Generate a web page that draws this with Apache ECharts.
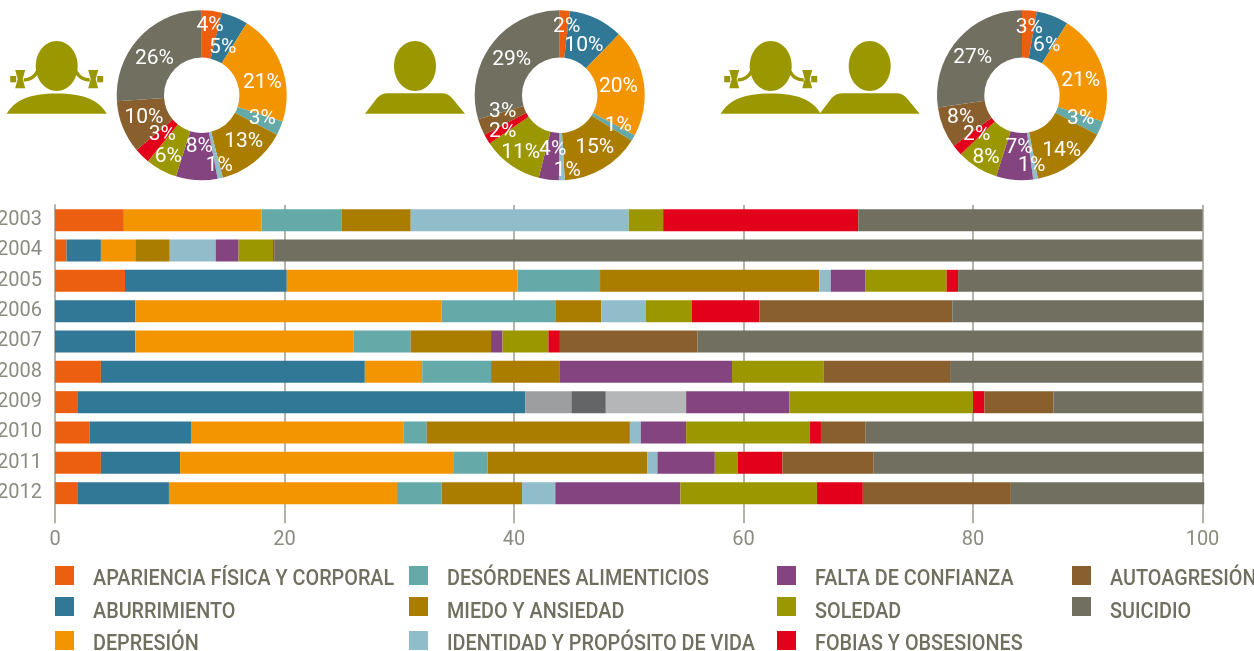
<!DOCTYPE html>
<html><head><meta charset="utf-8">
<style>html,body{margin:0;padding:0;background:#fff}#c{width:1254px;height:651px}</style>
<script src="https://cdn.jsdelivr.net/npm/echarts@6/dist/echarts.min.js"></script>
</head><body><div id="c"></div>
<script>
const years = ['2003','2004','2005','2006','2007','2008','2009','2010','2011','2012'];
const xTicks = [0,20,40,60,80,100];

const names = ['APARIENCIA FÍSICA Y CORPORAL','ABURRIMIENTO','DEPRESIÓN','DESÓRDENES ALIMENTICIOS','MIEDO Y ANSIEDAD','IDENTIDAD Y PROPÓSITO DE VIDA','FALTA DE CONFIANZA','SOLEDAD','FOBIAS Y OBSESIONES','AUTOAGRESIÓN','SUICIDIO'];
const colors = ['#ec5f10','#317897','#f39500','#65a9a8','#aa7c00','#91bdca','#844480','#9b9700','#e2001a','#8a5f2e','#716f60'];

const apariencia = [6,1,6.1,0,0,4,2,3,4,2];
const aburrimiento = [0,3,14.1,7,7,23,39,8.85,6.9,7.93];
const depresion = [12,3,20.1,26.7,19,5,0,18.55,23.8,19.87];
const desordenes = [7,0,7.2,9.9,5,6,0,2,3,3.9];
const miedo = [6,3,19.1,4,7,6,0,17.7,13.9,7];
const identidad = [19,4,1,3.9,0,0,0,0.95,0.9,2.9];
const gris1 = [0,0,0,0,0,0,4,0,0,0];
const gris2 = [0,0,0,0,0,0,3,0,0,0];
const gris3 = [0,0,0,0,0,0,7,0,0,0];
const falta = [0,2,3,0,1,15,9,3.95,5,10.9];
const soledad = [3,3,7.1,4,4,8,16,10.8,2,11.9];
const fobias = [17,0,1,5.9,1,0,1,0.95,3.9,4];
const autoagresion = [0,0.1,0,16.8,12,11,6,3.9,7.95,12.9];
const suicidio = [30,80.9,21.3,21.9,44,22,13,29.45,28.75,16.85];

const pieMujeres = [3.8,5.1,21.1,2.7,13.3,1,7.9,6,3,10,26.1];
const pieHombres = [1.9,10.3,20.4,1.2,15,1.1,3.8,11.4,1.9,3.1,29.4];
const pieAmbos = [2.8,6.1,21.1,2.7,14.3,0.9,7,7.9,2.1,7.8,27.3];

// label offsets from each donut's centre
const labelOffsetMujeres = [[8.3,-69.7],[21,-47.7],[60.7,-13],[60.7,23],[42,46.3],[17.7,70.3],[-2.3,51.3],[-33.3,61.3],[-39.3,39],[-57.7,22],[-47.3,-36.7]];
const labelOffsetHombres = [[7,-68.3],[24.3,-49.3],[58.7,-8.3],[58.7,30],[35,52.3],[7.7,75],[-7,54],[-39,57.7],[-57,36.7],[-57,16.7],[-48,-36]];
const labelOffsetAmbos = [[7.3,-67.7],[24.7,-49.7],[58.7,-14.7],[58.7,23],[39.7,55.3],[9.7,70.7],[-3,52.3],[-36,62],[-45.3,39.7],[-61.3,22],[-49.3,-38]];

const barSeriesData = [
  [names[0],colors[0],apariencia],[names[1],colors[1],aburrimiento],[names[2],colors[2],depresion],
  [names[3],colors[3],desordenes],[names[4],colors[4],miedo],[names[5],colors[5],identidad],
  ['gris1','#9d9e9f',gris1],['gris2','#646567',gris2],['gris3','#b5b6b8',gris3],
  [names[6],colors[6],falta],[names[7],colors[7],soledad],[names[8],colors[8],fobias],
  [names[9],colors[9],autoagresion],[names[10],colors[10],suicidio]
];

const tickColor = '#8b8b80', lineColor = '#b4b4ab', textColor = '#716f60';
const tickFont = 'Roboto, sans-serif';
const R0 = 37.7, R1 = 85, CY = 95.3;

function pieSeries(values, offsets, cx){
  return {
    type:'pie', center:[cx,CY], radius:[R0,R1], startAngle:90, clockwise:true,
    silent:true, avoidLabelOverlap:false, minShowLabelAngle:0,
    data: values.map((v,i)=>({name:names[i], value:v, itemStyle:{color:colors[i]}})),
    label:{show:true, position:'inside', color:'#fff', fontFamily:tickFont, fontSize:21,
      textBorderWidth:0, formatter:p=>Math.round(p.value)+'%'},
    labelLine:{show:false},
    labelLayout:p=>({
      x:cx+offsets[p.dataIndex][0], y:CY+offsets[p.dataIndex][1],
      align:'center', verticalAlign:'middle'
    })
  };
}

const iconColor = '#9b9700';
const solid = {fill:iconColor};
function pathEl(d, style){ return {type:'path', shape:{pathData:d}, style:style||solid}; }
function head(cx){ return {type:'ellipse', shape:{cx:cx, cy:66, rx:21, ry:25}, style:solid}; }
function femaleIcon(o){
  const c = 56.7+o, el = [head(c)];
  el.push(pathEl(`M${c-50},113.7 C${c-42},100 ${c-27},93.5 ${c},93.5 C${c+27},93.5 ${c+42},100 ${c+50},113.7 Z`));
  [-1,1].forEach(s=>{
    const X = d=>c+s*d;
    el.push(pathEl(`M${X(33)},80 C${X(27)},80 ${X(22)},77 ${X(19)},71`, {fill:'none',stroke:iconColor,lineWidth:3.5}));
    el.push(pathEl(`M${X(41.5)},70 L${X(31.5)},70 L${X(34)},79 L${X(31.5)},88.3 L${X(41.5)},88.3 L${X(39)},79 Z`));
    el.push({type:'rect', shape:{x:Math.min(X(40.5),X(46.5)), y:76, width:6, height:6.3}, style:solid});
  });
  return el;
}
function maleIcon(o){
  const c = 415+o;
  return [head(c), pathEl(`M${c-50},113.7 L${c-38},98 Q${c-34},93.3 ${c-27},93.3 L${c+27},93.3 Q${c+33},93.3 ${c+37},98 L${c+50},113.7 Z`)];
}

// Legend columns: indices into names, swatch x, text x
const legendColumns = [
  {items:[0,1,2], sx:55, tx:93},
  {items:[3,4,5], sx:409, tx:447},
  {items:[6,7,8], sx:777, tx:815},
  {items:[9,10], sx:1072, tx:1110}
];
const legendRowY = [566,597,631];
const legendTextY = [579.5,612,644];
const legendScaleX = 0.9;
function legendEls(){
  const out = [];
  legendColumns.forEach(col=>col.items.forEach((idx,r)=>{
    out.push({type:'rect', silent:true, shape:{x:col.sx,y:legendRowY[r],width:19,height:19}, style:{fill:colors[idx]}});
    out.push({type:'text', silent:true, x:col.tx, y:legendTextY[r], scaleX:legendScaleX,
      style:{text:names[idx], fill:textColor, font:'500 22px Roboto, sans-serif', textAlign:'left', textVerticalAlign:'middle', verticalAlign:'middle'}});
  }));
  return out;
}

const chart = echarts.init(document.getElementById('c'),null,{renderer:'canvas'});
chart.setOption({
  animation:false,
  backgroundColor:'#fff',
  grid:{left:55, top:205, width:1147.5, height:303.3, containLabel:false, outerBoundsMode:'none'},
  xAxis:{type:'value', min:xTicks[0], max:xTicks[xTicks.length-1], interval:20,
    axisLine:{show:false},
    axisTick:{show:true, length:15, lineStyle:{color:lineColor,width:2}},
    splitLine:{show:true, lineStyle:{color:lineColor,width:2}},
    axisLabel:{color:tickColor, fontFamily:tickFont, fontSize:20, margin:22, hideOverlap:false, showMaxLabel:true, showMinLabel:true}},
  yAxis:{type:'category', data:years, inverse:true,
    axisLine:{show:true, onZero:false, lineStyle:{color:lineColor,width:2}},
    axisTick:{show:false},
    axisLabel:{color:tickColor, fontFamily:tickFont, fontSize:20, margin:13}},
  series:[
    ...barSeriesData.map(([n,c,d])=>({type:'bar', name:n, stack:'t', barWidth:22, clip:false, silent:true,
      itemStyle:{color:c}, data:d})),
    pieSeries(pieMujeres,labelOffsetMujeres,201.7),
    pieSeries(pieHombres,labelOffsetHombres,559.7),
    pieSeries(pieAmbos,labelOffsetAmbos,1022),
    {type:'custom', coordinateSystem:'none', silent:true, data:[0],
      renderItem:()=>({type:'group', children:[...femaleIcon(0),...maleIcon(0),...femaleIcon(714),...maleIcon(454.7)]})}
  ],
  graphic:legendEls()
});
</script></body></html>
